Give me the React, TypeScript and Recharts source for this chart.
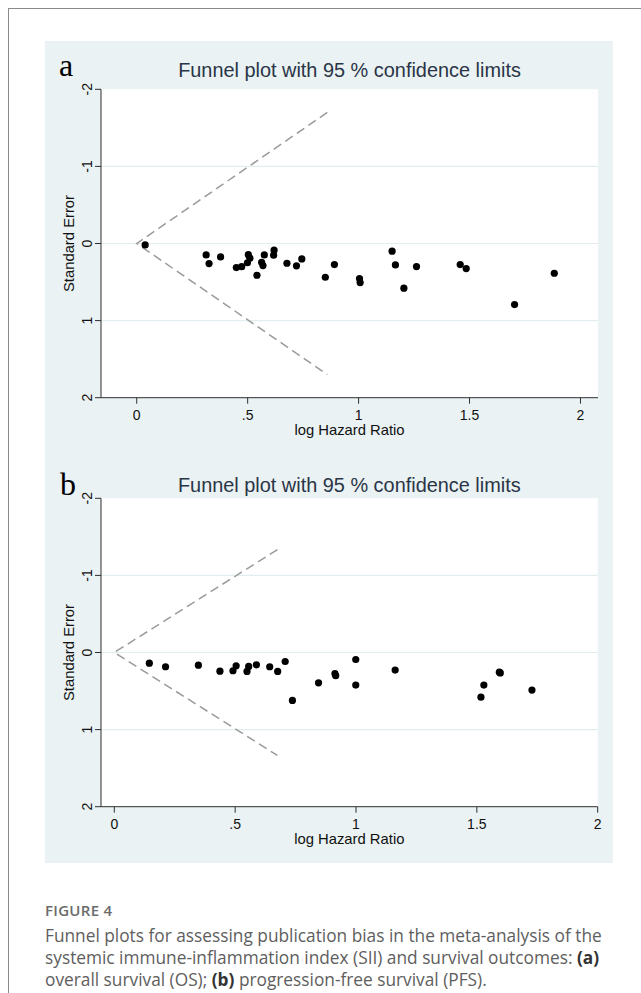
import React from 'react';
import { ScatterChart, Scatter, XAxis, YAxis, CartesianGrid } from 'recharts';

// ---------- data ----------
// Panel a: overall survival (OS)
const osLogHR = [0.038, 0.313, 0.326, 0.378, 0.449, 0.473, 0.503, 0.510, 0.499, 0.542, 0.563, 0.569, 0.575, 0.619, 0.617, 0.677, 0.720, 0.744, 0.850, 0.891, 1.004, 1.007, 1.151, 1.166, 1.204, 1.261, 1.458, 1.485, 1.703, 1.882];
const osSE = [0.018, 0.148, 0.260, 0.174, 0.312, 0.300, 0.145, 0.190, 0.250, 0.412, 0.243, 0.286, 0.148, 0.087, 0.152, 0.256, 0.290, 0.200, 0.438, 0.273, 0.455, 0.507, 0.100, 0.278, 0.580, 0.299, 0.273, 0.325, 0.792, 0.386];

// Panel b: progression-free survival (PFS)
const pfsLogHR = [0.145, 0.212, 0.348, 0.437, 0.491, 0.504, 0.549, 0.556, 0.588, 0.643, 0.676, 0.707, 0.737, 0.845, 0.913, 0.916, 0.999, 0.999, 1.162, 1.517, 1.529, 1.593, 1.597, 1.728];
const pfsSE = [0.138, 0.185, 0.164, 0.242, 0.237, 0.173, 0.246, 0.181, 0.160, 0.185, 0.246, 0.117, 0.622, 0.393, 0.275, 0.300, 0.091, 0.423, 0.228, 0.579, 0.423, 0.255, 0.265, 0.488];

// pseudo 95% confidence limit lines (end points of the funnel)
const funnelA_x = [0.859, 0, 0.859];
const funnelA_y = [-1.7, 0, 1.7];
const funnelB_x = [0.675, 0, 0.675];
const funnelB_y = [-1.335, 0, 1.335];

const xTicks = [0, 0.5, 1, 1.5, 2];
const xTickLabels = ['0', '.5', '1', '1.5', '2'];
const yTicks = [-2, -1, 0, 1, 2];
const gridValues = [-1, 0, 1];

const domainA: [number, number] = [-0.161, 2.079];
const domainB: [number, number] = [-0.055, 2.0];

const TITLE = 'Funnel plot with 95 % confidence limits';
const X_LABEL = 'log Hazard Ratio';
const Y_LABEL = 'Standard Error';

// ---------- helpers ----------
const zip = (xs: number[], ys: number[]) => xs.map((x, i) => ({ x, y: ys[i] }));

const SANS = '"Liberation Sans", Arial, Helvetica, sans-serif';
const AXIS_COLOR = '#2e2e2e';
const TICK_STYLE: React.CSSProperties = { fontSize: '14px', fontFamily: SANS, fill: '#111' };

const YTick = (props: any) => {
  const { x, y, payload } = props;
  return (
    <text
      x={x}
      y={y}
      transform={`rotate(-90 ${x} ${y})`}
      textAnchor="middle"
      style={TICK_STYLE}
    >
      {String(payload.value)}
    </text>
  );
};

const XTick = (props: any) => {
  const { x, y, payload } = props;
  const i = xTicks.indexOf(payload.value);
  return (
    <text x={x} y={y + 10.3} textAnchor="middle" style={TICK_STYLE}>
      {i >= 0 ? xTickLabels[i] : String(payload.value)}
    </text>
  );
};

const Dot = (props: any) => {
  const { cx, cy } = props;
  if (cx == null || cy == null) return <g />;
  return <circle cx={cx} cy={cy} r={3.6} fill="#000" />;
};

const NoDot = () => <g />;

type PanelProps = {
  top: number;
  height: number;
  margin: { top: number; right: number; bottom: number; left: number };
  domain: [number, number];
  points: { x: number; y: number }[];
  funnel: { x: number; y: number }[];
};

const Panel = ({ top, height, margin, domain, points, funnel }: PanelProps) => (
  <div style={{ position: 'absolute', left: 45, top, width: 568, height }}>
    <ScatterChart width={568} height={height} margin={margin}>
      <CartesianGrid
        fill="#ffffff"
        vertical={false}
        horizontalValues={gridValues}
        stroke="#e3edf0"
        strokeWidth={1.2}
      />
      <XAxis
        dataKey="x"
        type="number"
        domain={domain}
        ticks={xTicks}
        allowDataOverflow
        height={40}
        tickSize={6}
        tickMargin={6}
        axisLine={{ stroke: AXIS_COLOR }}
        tickLine={{ stroke: AXIS_COLOR }}
        tick={<XTick />}
        interval={0}
      />
      <YAxis
        dataKey="y"
        type="number"
        domain={[-2, 2]}
        ticks={yTicks}
        reversed
        allowDataOverflow
        width={50}
        tickSize={6}
        tickMargin={3}
        axisLine={{ stroke: AXIS_COLOR }}
        tickLine={{ stroke: AXIS_COLOR }}
        tick={<YTick />}
        interval={0}
      />
      <Scatter
        data={funnel}
        isAnimationActive={false}
        line={{ stroke: '#9a9a9a', strokeWidth: 1.5, strokeDasharray: '9 5' }}
        lineType="joint"
        shape={<NoDot />}
      />
      <Scatter data={points} isAnimationActive={false} shape={<Dot />} fill="#000" />
    </ScatterChart>
  </div>
);

export default function App() {
  return (
    <div style={{ position: 'absolute', left: 0, top: 0, width: 641, height: 993, background: '#fff', overflow: 'hidden' }}>
      {/* page frame */}
      <div
        style={{
          position: 'absolute',
          left: 8,
          top: 8,
          width: 633,
          height: 985,
          borderLeft: '1px solid #8a8a8a',
          borderTop: '1px solid #8a8a8a',
          boxSizing: 'border-box',
        }}
      />
      {/* graph region background */}
      <div style={{ position: 'absolute', left: 45, top: 41, width: 568, height: 822, background: '#eaf2f3' }} />

      <Panel
        top={41}
        height={414}
        margin={{ top: 48.3, right: 15, bottom: 17.3, left: 6 }}
        domain={domainA}
        points={zip(osLogHR, osSE)}
        funnel={zip(funnelA_x, funnelA_y)}
      />
      <Panel
        top={455}
        height={408}
        margin={{ top: 43.3, right: 15.3, bottom: 16.3, left: 6 }}
        domain={domainB}
        points={zip(pfsLogHR, pfsSE)}
        funnel={zip(funnelB_x, funnelB_y)}
      />

      {/* text overlay */}
      <svg width={641} height={993} style={{ position: 'absolute', left: 0, top: 0, pointerEvents: 'none' }}>
        <text x={59} y={76} fontFamily='"Liberation Serif", "Times New Roman", serif' fontSize={32} fill="#000">a</text>
        <text x={60} y={495} fontFamily='"Liberation Serif", "Times New Roman", serif' fontSize={32} fill="#000">b</text>

        <text x={349.5} y={77} textAnchor="middle" fontFamily={SANS} fontSize={19.9} fill="#2a3547">{TITLE}</text>
        <text x={349.3} y={492} textAnchor="middle" fontFamily={SANS} fontSize={19.9} fill="#2a3547">{TITLE}</text>

        <text x={74} y={243.5} transform="rotate(-90 74 243.5)" textAnchor="middle" fontFamily={SANS} fontSize={14.8} fill="#111">{Y_LABEL}</text>
        <text x={74} y={652.5} transform="rotate(-90 74 652.5)" textAnchor="middle" fontFamily={SANS} fontSize={14.8} fill="#111">{Y_LABEL}</text>

        <text x={349.5} y={435} textAnchor="middle" fontFamily={SANS} fontSize={14.8} fill="#111">{X_LABEL}</text>
        <text x={349.3} y={844} textAnchor="middle" fontFamily={SANS} fontSize={14.8} fill="#111">{X_LABEL}</text>

        <text x={45} y={916} fontFamily='"Open Sans", "Noto Sans", sans-serif' fontWeight={600} fontSize={15} letterSpacing={0.3} fill="#6b6b6b">FIGURE 4</text>
        <g fontFamily='"Open Sans", "Noto Sans", sans-serif' fontSize={17.3} fill="#5e5e5e">
          <text x={45} y={942}>Funnel plots for assessing publication bias in the meta-analysis of the</text>
          <text x={45} y={964}>
            systemic immune-inflammation index (SII) and survival outcomes: <tspan fontWeight={700} fill="#333">(a)</tspan>
          </text>
          <text x={45} y={986}>
            overall survival (OS); <tspan fontWeight={700} fill="#333">(b)</tspan> progression-free survival (PFS).
          </text>
        </g>
      </svg>
    </div>
  );
}
